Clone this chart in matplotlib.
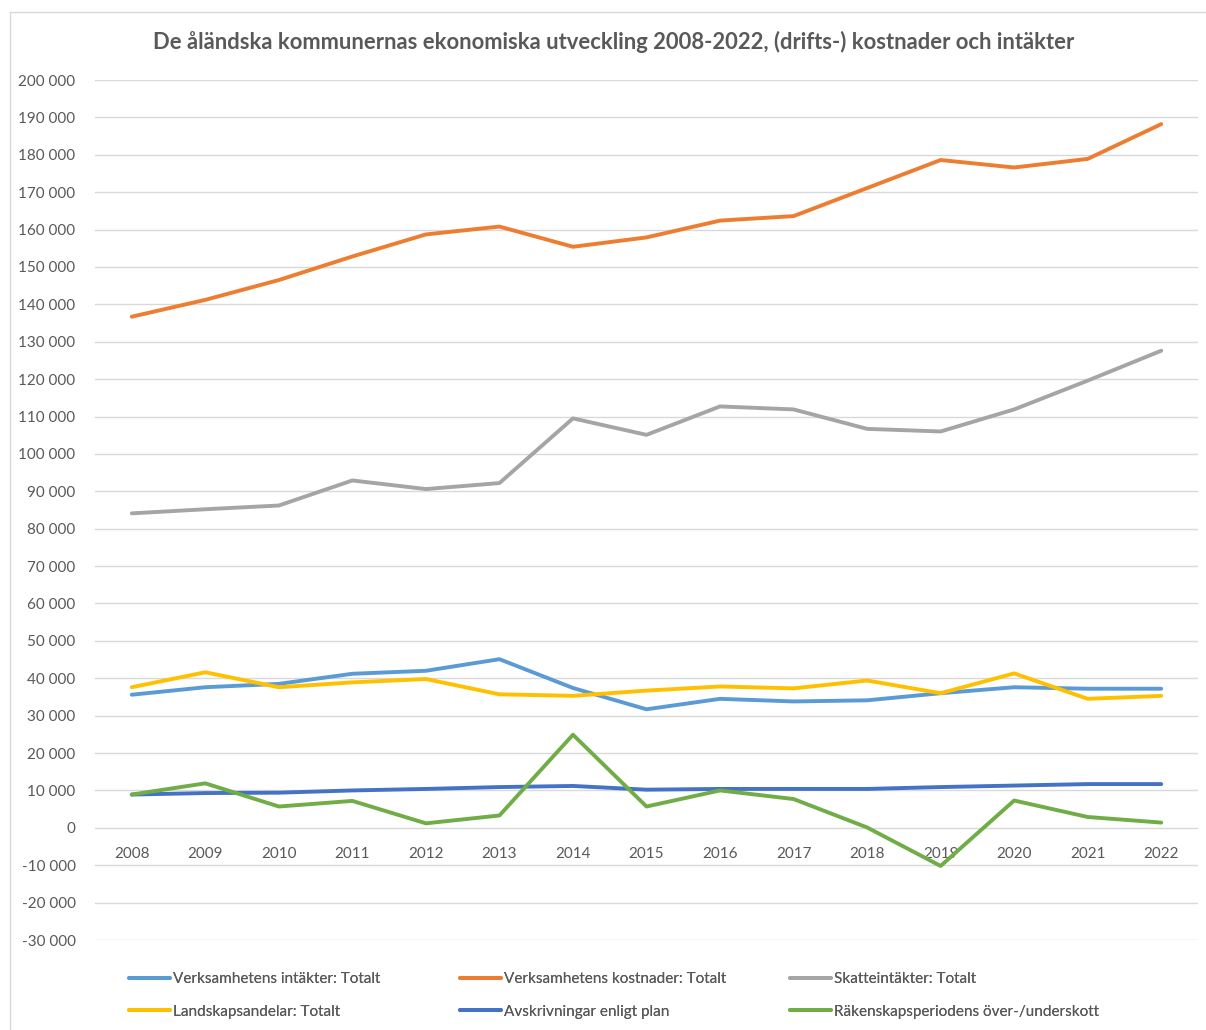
import matplotlib.pyplot as plt
from matplotlib.ticker import FuncFormatter, MultipleLocator
from matplotlib.patches import Rectangle

plt.rcParams['font.family'] = ['Lato', 'DejaVu Sans']

years = ['2008', '2009', '2010', '2011', '2012', '2013', '2014', '2015',
         '2016', '2017', '2018', '2019', '2020', '2021', '2022']

# values in thousands of euro
intakter = [35.6, 37.6, 38.5, 41.2, 42.0, 45.1, 37.4, 31.7,
            34.5, 33.8, 34.1, 36.0, 37.6, 37.2, 37.2]
kostnader = [136.7, 141.2, 146.5, 152.8, 158.7, 160.8, 155.4, 157.9,
             162.4, 163.6, 171.1, 178.6, 176.6, 178.9, 188.2]
skatt = [84.1, 85.2, 86.2, 92.9, 90.6, 92.2, 109.5, 105.1,
         112.7, 111.9, 106.7, 106.0, 111.9, 119.6, 127.6]
landskap = [37.6, 41.6, 37.6, 38.9, 39.8, 35.7, 35.3, 36.7,
            37.8, 37.3, 39.4, 36.0, 41.3, 34.5, 35.3]
avskr = [8.9, 9.3, 9.4, 10.0, 10.4, 10.9, 11.2, 10.2,
         10.4, 10.4, 10.4, 10.9, 11.3, 11.7, 11.7]
resultat = [8.9, 11.9, 5.7, 7.2, 1.2, 3.3, 24.9, 5.7,
            10.0, 7.7, 0.1, -10.2, 7.3, 2.9, 1.4]

series = [
    ('Verksamhetens intäkter: Totalt', intakter, '#5B9BD5'),
    ('Verksamhetens kostnader: Totalt', kostnader, '#ED7D31'),
    ('Skatteintäkter: Totalt', skatt, '#A5A5A5'),
    ('Landskapsandelar: Totalt', landskap, '#FFC000'),
    ('Avskrivningar enligt plan', avskr, '#4472C4'),
    ('Räkenskapsperiodens över-/underskott', resultat, '#70AD47'),
]

txt = '#595959'

fig = plt.figure(figsize=(12.06, 10.30), dpi=100)
# chart area border (only left and top visible in the crop)
fig.patches.append(Rectangle((10 / 1206, -0.1), 1.1, 1.1 - 12 / 1030,
                             transform=fig.transFigure, fill=False,
                             edgecolor='#D9D9D9', lw=1))

ax = fig.add_axes((95 / 1206, 1 - 940 / 1030, 1103 / 1206, 860 / 1030))
x = list(range(len(years)))
handles = []
for name, vals, col in series:
    ln, = ax.plot(x, [v * 1000 for v in vals], color=col, lw=2.8,
                  solid_capstyle='round', solid_joinstyle='round', label=name)
    handles.append(ln)

ax.set_xlim(-0.5, len(years) - 0.5)
ax.set_ylim(-30000, 200000)
ax.yaxis.set_major_locator(MultipleLocator(10000))
ax.yaxis.set_major_formatter(FuncFormatter(lambda v, p: f'{v:,.0f}'.replace(',', ' ')))
ax.grid(axis='y', color='#D9D9D9', lw=1)
ax.set_axisbelow(True)
for s in ax.spines.values():
    s.set_visible(False)
# category labels sit under the zero line, like Excel
ax.spines['bottom'].set_position(('data', 0))
ax.set_xticks(x)
ax.set_xticklabels(years)
ax.tick_params(axis='both', length=0, labelsize=11, labelcolor=txt)
ax.tick_params(axis='x', pad=14)
ax.tick_params(axis='y', pad=14)

fig.text(0.509, 1 - 42 / 1030, 'De åländska kommunernas ekonomiska utveckling 2008-2022, (drifts-) kostnader och intäkter',
         ha='center', va='center', fontsize=15.8, fontweight='bold', color=txt)

# three legend columns, Excel style
col_x = [121, 452, 782]
for i, cx in enumerate(col_x):
    hs = [handles[i], handles[i + 3]]
    leg = fig.legend(hs, [h.get_label() for h in hs], loc='center left',
                     bbox_to_anchor=(cx / 1206, 1 - 995.5 / 1030), frameon=False,
                     fontsize=11, labelcolor=txt, handlelength=2.7,
                     handletextpad=0.2, labelspacing=1.2, borderpad=0)
    fig.add_artist(leg)

fig.savefig('out.png', dpi=100)
